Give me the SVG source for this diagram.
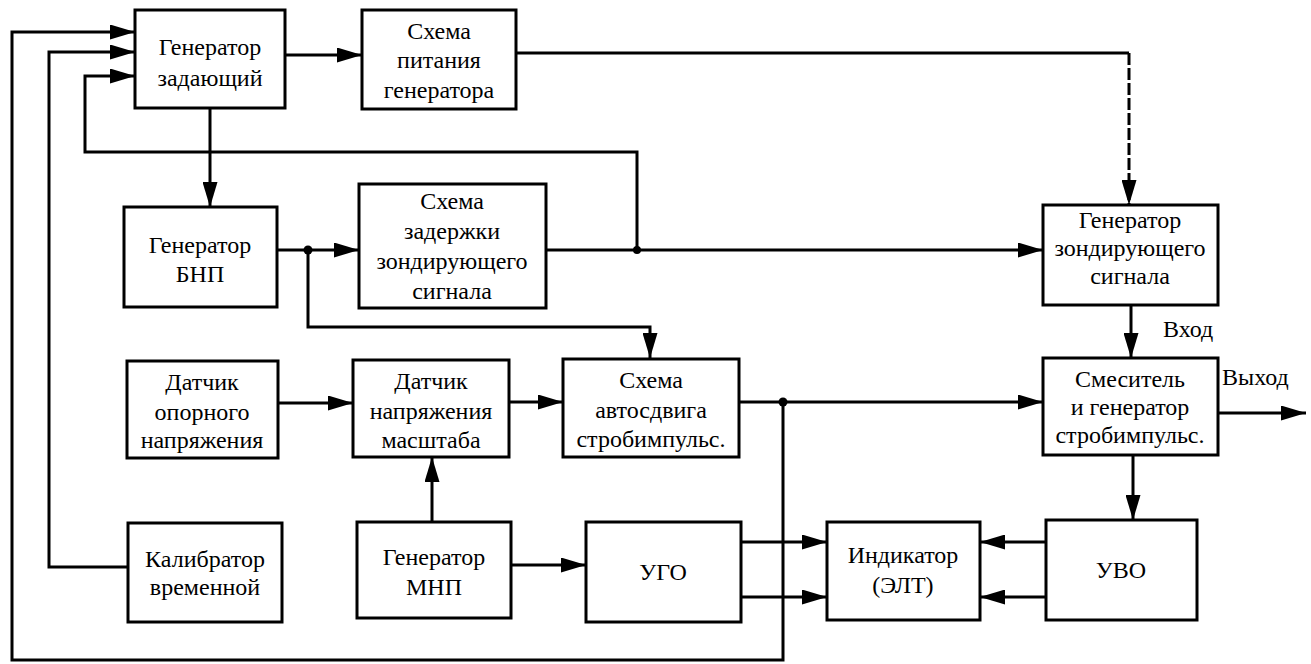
<svg xmlns="http://www.w3.org/2000/svg" width="1311" height="664" viewBox="0 0 1311 664">
<style>
.box{fill:#fff;stroke:#000;stroke-width:3}
.t{font-family:'Liberation Serif','DejaVu Serif',serif;font-size:24px;fill:#000;text-anchor:middle}
.lbl{font-family:'Liberation Serif','DejaVu Serif',serif;font-size:24px;fill:#000}
.c{fill:none;stroke:#000;stroke-width:3}
.dash{stroke-dasharray:12 3}
.dot{fill:#000}
</style>
<defs>
<marker id="ah" markerUnits="userSpaceOnUse" markerWidth="25" markerHeight="15" refX="25" refY="7.5" orient="auto">
<path d="M0,0 L25,7.5 L0,15 Z" fill="#000"/>
</marker>
</defs>
<rect width="1311" height="664" fill="#fff"/>
<g id="connectors">
<path class="c" d="M285,55 H362" marker-end="url(#ah)"/>
<path class="c" d="M210,108 V207" marker-end="url(#ah)"/>
<path class="c" d="M516,53 H1129"/>
<path class="c dash" d="M1129,53 V205" marker-end="url(#ah)"/>
<path class="c" d="M277,250 H359" marker-end="url(#ah)"/>
<path class="c" d="M308,250 V327 H650 V358" marker-end="url(#ah)"/>
<path class="c" d="M546,250 H1043" marker-end="url(#ah)"/>
<path class="c" d="M637,250 V152 H85 V76 H135" marker-end="url(#ah)"/>
<path class="c" d="M278,403 H353" marker-end="url(#ah)"/>
<path class="c" d="M509,402 H563" marker-end="url(#ah)"/>
<path class="c" d="M432,522 V457" marker-end="url(#ah)"/>
<path class="c" d="M739,402 H1043" marker-end="url(#ah)"/>
<path class="c" d="M783,402 V660 H12 V32 H135" marker-end="url(#ah)"/>
<path class="c" d="M128,567 H49 V52 H135" marker-end="url(#ah)"/>
<path class="c" d="M511,565 H586" marker-end="url(#ah)"/>
<path class="c" d="M741,542 H827" marker-end="url(#ah)"/>
<path class="c" d="M741,597 H827" marker-end="url(#ah)"/>
<path class="c" d="M1046,542 H980" marker-end="url(#ah)"/>
<path class="c" d="M1046,597 H980" marker-end="url(#ah)"/>
<path class="c" d="M1131,305 V358" marker-end="url(#ah)"/>
<path class="c" d="M1133,455 V520" marker-end="url(#ah)"/>
<path class="c" d="M1218,413 H1306" marker-end="url(#ah)"/>
<circle class="dot" cx="308" cy="250" r="4.5"/>
<circle class="dot" cx="637" cy="250" r="4"/>
<circle class="dot" cx="783" cy="402" r="4.5"/>
<text class="lbl" x="1163" y="337">Вход</text>
<text class="lbl" x="1222" y="385">Выход</text>
</g>
<g id="gen-master">
<rect class="box" x="135" y="10" width="150" height="98"/>
<text class="t" x="210" y="55">Генератор</text>
<text class="t" x="210" y="86">задающий</text>
</g>
<g id="power-circuit">
<rect class="box" x="362" y="10" width="154" height="99"/>
<text class="t" x="439" y="39">Схема</text>
<text class="t" x="439" y="68">питания</text>
<text class="t" x="439" y="98">генератора</text>
</g>
<g id="gen-bnp">
<rect class="box" x="124" y="207" width="153" height="100"/>
<text class="t" x="200" y="253">Генератор</text>
<text class="t" x="200" y="282">БНП</text>
</g>
<g id="delay-circuit">
<rect class="box" x="359" y="184" width="187" height="124"/>
<text class="t" x="452" y="209">Схема</text>
<text class="t" x="452" y="239">задержки</text>
<text class="t" x="452" y="269">зондирующего</text>
<text class="t" x="452" y="299">сигнала</text>
</g>
<g id="gen-probe">
<rect class="box" x="1043" y="205" width="175" height="100"/>
<text class="t" x="1130" y="228">Генератор</text>
<text class="t" x="1130" y="256">зондирующего</text>
<text class="t" x="1130" y="284">сигнала</text>
</g>
<g id="ref-sensor">
<rect class="box" x="127" y="361" width="151" height="97"/>
<text class="t" x="202" y="390">Датчик</text>
<text class="t" x="202" y="420">опорного</text>
<text class="t" x="202" y="448">напряжения</text>
</g>
<g id="scale-sensor">
<rect class="box" x="353" y="360" width="156" height="97"/>
<text class="t" x="431" y="389">Датчик</text>
<text class="t" x="431" y="419">напряжения</text>
<text class="t" x="431" y="448">масштаба</text>
</g>
<g id="autoshift">
<rect class="box" x="563" y="359" width="176" height="98"/>
<text class="t" x="651" y="388">Схема</text>
<text class="t" x="651" y="418">автосдвига</text>
<text class="t" x="651" y="447">стробимпульс.</text>
</g>
<g id="mixer">
<rect class="box" x="1043" y="358" width="175" height="97"/>
<text class="t" x="1130" y="387">Смеситель</text>
<text class="t" x="1130" y="415">и генератор</text>
<text class="t" x="1130" y="443">стробимпульс.</text>
</g>
<g id="calibrator">
<rect class="box" x="128" y="523" width="154" height="99"/>
<text class="t" x="205" y="567">Калибратор</text>
<text class="t" x="205" y="595">временной</text>
</g>
<g id="gen-mnp">
<rect class="box" x="357" y="522" width="154" height="96"/>
<text class="t" x="434" y="565">Генератор</text>
<text class="t" x="434" y="595">МНП</text>
</g>
<g id="ugo">
<rect class="box" x="586" y="522" width="155" height="100"/>
<text class="t" x="663" y="580">УГО</text>
</g>
<g id="indicator">
<rect class="box" x="827" y="522" width="153" height="98"/>
<text class="t" x="903" y="563">Индикатор</text>
<text class="t" x="903" y="593">(ЭЛТ)</text>
</g>
<g id="uvo">
<rect class="box" x="1046" y="520" width="151" height="100"/>
<text class="t" x="1121" y="578">УВО</text>
</g>
</svg>
